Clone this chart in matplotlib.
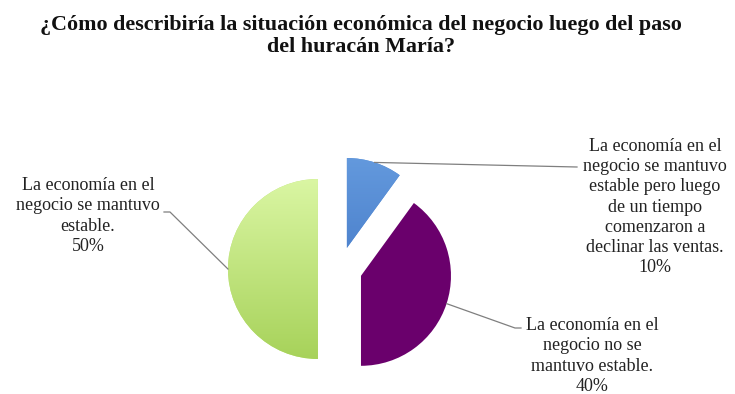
import numpy as np
import matplotlib
matplotlib.use("Agg")
import matplotlib.pyplot as plt
from matplotlib.colors import LinearSegmentedColormap

# Survey answers (share of businesses, %)
labels = [
    "La economía en el\nnegocio se mantuvo\nestable pero luego\nde un tiempo\ncomenzaron a\ndeclinar las ventas.",
    "La economía en el\nnegocio no se\nmantuvo estable.",
    "La economía en el\nnegocio se mantuvo\nestable.",
]
values = [10, 40, 50]
colors = ["#5A8ED6", "#6A006C", "#BEE37C"]
title = "¿Cómo describiría la situación económica del negocio luego del paso\ndel huracán María?"

W, H = 735, 394
fig = plt.figure(figsize=(W / 100, H / 100), dpi=100)
ax = fig.add_axes([0, 0, 1, 1])
ax.set_xlim(0, W)
ax.set_ylim(0, H)
ax.set_aspect("equal")
ax.axis("off")

serif = ["Liberation Serif", "DejaVu Serif"]

# pie laid out in pixel units: pie.explode offsets are in data units
cx, cy, r = 340, H - 269, 90
gap = 0.245 * r
wedges, _ = ax.pie(values, colors=colors, startangle=90, counterclock=False,
                   explode=[gap] * 3, center=(cx, cy), radius=r,
                   wedgeprops=dict(linewidth=0))

# vertical light-to-darker green shading on the largest slice
grad = np.linspace(0, 1, 256).reshape(-1, 1)
g = wedges[2]
gx, gy = g.center
cmap = LinearSegmentedColormap.from_list("grn", ["#A7D25A", "#DAF6A3"])
im = ax.imshow(grad, cmap=cmap, origin="lower", aspect="auto",
               extent=[gx - r, gx, gy - r, gy + r], zorder=g.get_zorder() + 0.1)
im.set_clip_path(g)
# subtle shading on the blue slice
b = wedges[0]
bx, by = b.center
cmapb = LinearSegmentedColormap.from_list("blu", ["#4F84CE", "#6399DD"])
imb = ax.imshow(grad, cmap=cmapb, origin="lower", aspect="auto",
                extent=[bx, bx + r, by, by + r], zorder=b.get_zorder() + 0.1)
imb.set_clip_path(b)
ax.set_xlim(0, W)
ax.set_ylim(0, H)


def anchor(w):
    a = np.deg2rad((w.theta1 + w.theta2) / 2)
    x0, y0 = w.center
    return x0 + w.r * np.cos(a), y0 + w.r * np.sin(a)


line_kw = dict(color="#7F7F7F", lw=0.9, zorder=5)
label_kw = dict(fontsize=13, family=serif, color="#222222", ha="center",
                va="center", linespacing=1.25, zorder=6)

# leader lines (ends in pixel space, y measured from top)
ends = [
    [(577, 167)],
    [(515, 328), (521, 328)],
    [(170, 212), (164, 212)],
]
for w, pts in zip(wedges, ends):
    ax0 = anchor(w)
    xs = [ax0[0]] + [p[0] for p in pts]
    ys = [ax0[1]] + [H - p[1] for p in pts]
    ax.plot(xs, ys, **line_kw)

label_pos = [(655, 207), (592, 356), (88, 216)]
for txt, v, (px, py) in zip(labels, values, label_pos):
    ax.text(px, H - py, f"{txt}\n{v}%", **label_kw)

fig.text(361 / W, 1 - 36 / H, title, ha="center", va="center",
         fontsize=15.8, fontweight="bold", family=serif, color="#111111",
         linespacing=1.15)

fig.savefig("out.png", dpi=100, facecolor="white")
